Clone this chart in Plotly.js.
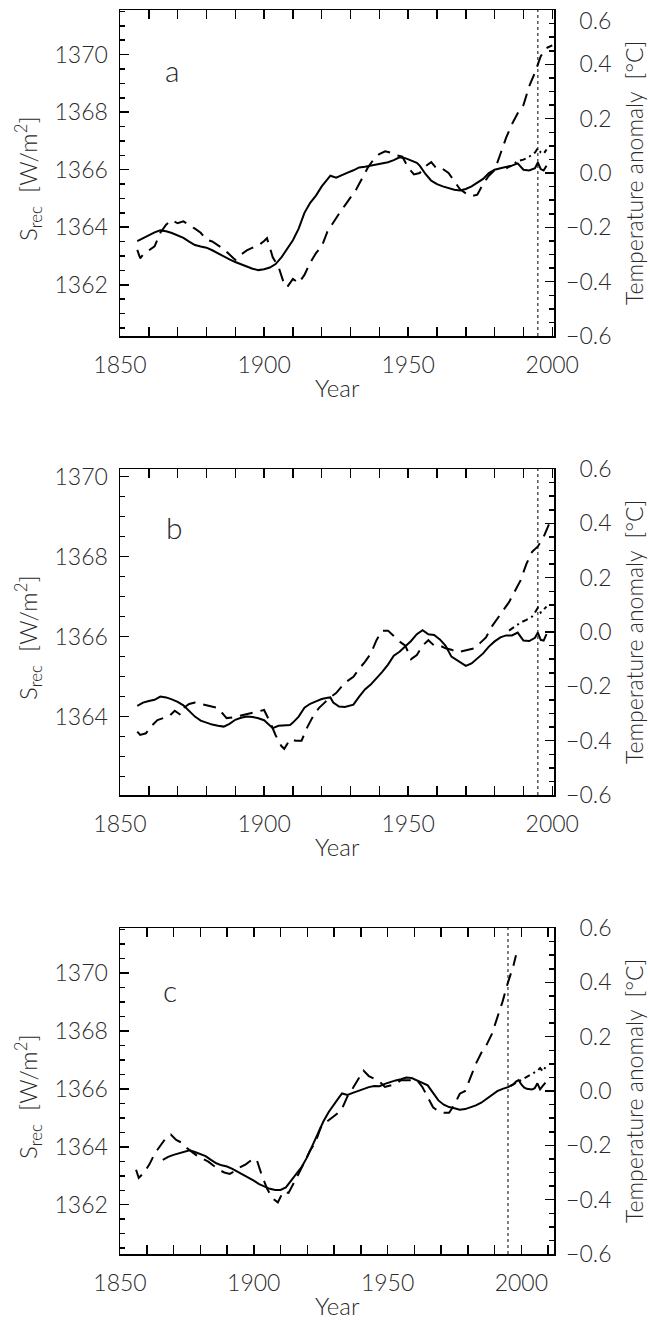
<!DOCTYPE html>
<html><head><meta charset="utf-8">
<script src="https://cdn.plot.ly/plotly-3.0.1.min.js"></script>
<style>html,body{margin:0;padding:0;background:#fff}</style>
</head><body><div id="chart" style="width:650px;height:1320px"></div>
<script>
// ---------------- DATA ----------------
const markYear = 1995;
const xTickLabels = ['1850','1900','1950','2000'];
const rightTickVals = [-0.6,-0.4,-0.2,0,0.2,0.4,0.6];
const rightTickText = ['\u22120.6','\u22120.4','\u22120.2','\u20070.0','\u20070.2','\u20070.4','\u20070.6'];
const panelLetters = ['a','b','c'];

// Panel a
const yearsA = [1856,1858,1860,1862,1864,1866,1868,1870,1872,1874,1876,1878,1880,1882,1884,1886,1888,1890,1892,1894,1896,1898,1900,1902,1904,1906,1908,1910,1912,1914,1916,1918,1920,1922,1923,1925,1927,1929,1931,1933,1935,1937,1939,1941,1943,1945,1947,1949,1951,1953,1954,1956,1958,1960,1962,1964,1966,1968,1970,1972,1974,1976,1978,1980,1982,1984,1986,1988,1989,1990,1992,1994,1995,1996,1997,1998];
const srecA = [1363.52,1363.62,1363.74,1363.82,1363.89,1363.86,1363.80,1363.72,1363.63,1363.50,1363.38,1363.33,1363.29,1363.20,1363.09,1362.98,1362.88,1362.79,1362.71,1362.63,1362.56,1362.51,1362.54,1362.60,1362.72,1362.95,1363.23,1363.55,1363.95,1364.50,1364.85,1365.10,1365.42,1365.68,1365.79,1365.72,1365.82,1365.90,1365.98,1366.08,1366.10,1366.14,1366.18,1366.22,1366.26,1366.33,1366.43,1366.40,1366.33,1366.24,1366.14,1365.85,1365.62,1365.50,1365.42,1365.35,1365.30,1365.28,1365.33,1365.42,1365.55,1365.68,1365.88,1366.00,1366.05,1366.10,1366.14,1366.22,1366.10,1366.00,1365.97,1366.05,1366.25,1366.02,1365.97,1366.14];
const tYearsA = [1856,1857,1858,1860,1862,1864,1866,1868,1870,1872,1874,1876,1878,1880,1882,1884,1886,1888,1890,1892,1894,1896,1898,1900,1901,1903,1905,1907,1908,1910,1912,1914,1916,1918,1920,1922,1924,1926,1928,1930,1932,1934,1936,1938,1940,1942,1944,1946,1948,1950,1952,1954,1956,1958,1960,1962,1964,1966,1968,1970,1972,1974,1976,1978,1980,1982,1984,1986,1988,1990,1992,1994,1996,1998,2000];
const tempA = [-0.283,-0.314,-0.30,-0.285,-0.27,-0.22,-0.19,-0.173,-0.185,-0.178,-0.19,-0.205,-0.22,-0.245,-0.252,-0.265,-0.28,-0.30,-0.32,-0.30,-0.285,-0.275,-0.268,-0.25,-0.24,-0.31,-0.345,-0.41,-0.42,-0.39,-0.405,-0.375,-0.33,-0.295,-0.27,-0.215,-0.18,-0.15,-0.12,-0.09,-0.06,-0.02,0.02,0.05,0.07,0.08,0.075,0.065,0.06,0.02,-0.005,0.00,0.025,0.04,0.015,0.015,0.00,-0.03,-0.06,-0.075,-0.085,-0.08,-0.04,-0.01,0.01,0.07,0.13,0.18,0.22,0.25,0.32,0.37,0.43,0.46,0.47];
const ddYearsA = [1984,1986,1988,1990,1992,1994,1995,1996,1997,1998];
const ddA = [1366.05,1366.15,1366.30,1366.35,1366.45,1366.60,1366.75,1366.60,1366.55,1366.70];

// Panel b
const yearsB = [1856,1858,1860,1862,1864,1866,1868,1870,1872,1874,1876,1878,1880,1882,1884,1886,1888,1890,1892,1894,1896,1898,1900,1902,1903,1905,1907,1909,1910,1912,1914,1916,1918,1920,1922,1923,1924,1926,1928,1931,1933,1935,1937,1939,1941,1943,1945,1947,1949,1951,1953,1955,1957,1959,1961,1963,1965,1967,1969,1970,1972,1974,1976,1978,1980,1982,1984,1986,1988,1989,1990,1992,1994,1995,1996,1997,1998];
const srecB = [1364.27,1364.35,1364.39,1364.42,1364.50,1364.48,1364.43,1364.37,1364.28,1364.15,1364.00,1363.90,1363.85,1363.80,1363.77,1363.75,1363.82,1363.92,1363.97,1364.00,1363.99,1363.96,1363.91,1363.79,1363.71,1363.77,1363.78,1363.79,1363.85,1364.00,1364.22,1364.32,1364.38,1364.44,1364.47,1364.48,1364.35,1364.25,1364.24,1364.30,1364.50,1364.68,1364.80,1364.95,1365.12,1365.30,1365.52,1365.62,1365.75,1365.89,1366.06,1366.16,1366.06,1366.04,1365.93,1365.77,1365.50,1365.40,1365.30,1365.27,1365.33,1365.45,1365.58,1365.75,1365.88,1365.98,1366.03,1366.03,1366.10,1366.00,1365.90,1365.89,1365.97,1366.10,1365.92,1365.90,1366.06];
const tYearsB = [1856,1857,1859,1861,1863,1865,1867,1869,1871,1872,1874,1876,1878,1880,1882,1884,1886,1887,1889,1891,1893,1895,1897,1899,1900,1902,1904,1906,1907,1909,1911,1913,1915,1917,1919,1921,1923,1925,1927,1929,1931,1933,1935,1937,1939,1941,1943,1945,1947,1949,1951,1953,1955,1957,1959,1961,1963,1965,1967,1969,1971,1973,1975,1977,1979,1981,1983,1985,1987,1989,1991,1993,1995,1997,1999,2000];
const tempB = [-0.367,-0.379,-0.373,-0.345,-0.324,-0.316,-0.31,-0.29,-0.305,-0.28,-0.265,-0.26,-0.265,-0.27,-0.275,-0.28,-0.305,-0.317,-0.315,-0.31,-0.305,-0.30,-0.295,-0.29,-0.287,-0.33,-0.38,-0.42,-0.43,-0.395,-0.40,-0.40,-0.35,-0.31,-0.28,-0.26,-0.24,-0.225,-0.20,-0.18,-0.165,-0.135,-0.11,-0.08,-0.03,0.005,0.005,-0.015,-0.035,-0.05,-0.10,-0.085,-0.05,-0.03,-0.05,-0.05,-0.06,-0.065,-0.075,-0.07,-0.065,-0.06,-0.04,-0.02,0.02,0.05,0.08,0.11,0.15,0.19,0.25,0.295,0.315,0.35,0.40,0.42];
const ddYearsB = [1985,1987,1989,1991,1993,1994,1995,1996,1998];
const ddB = [1366.15,1366.25,1366.35,1366.42,1366.50,1366.60,1366.72,1366.60,1366.75];

// Panel c
const yearsC = [1866,1868,1870,1872,1874,1876,1878,1880,1882,1884,1886,1888,1890,1892,1894,1896,1898,1900,1902,1904,1906,1908,1910,1912,1914,1916,1918,1920,1922,1924,1926,1928,1930,1932,1933,1935,1937,1939,1941,1943,1945,1947,1949,1951,1953,1955,1957,1959,1961,1963,1965,1967,1969,1971,1973,1975,1977,1979,1981,1983,1985,1987,1989,1991,1993,1995,1997,1998,1999,2000,2001,2002,2004,2005,2006,2007,2008,2009];
const srecC = [1363.55,1363.65,1363.72,1363.77,1363.84,1363.88,1363.82,1363.76,1363.68,1363.55,1363.43,1363.36,1363.32,1363.24,1363.14,1363.03,1362.93,1362.83,1362.71,1362.62,1362.55,1362.51,1362.51,1362.60,1362.85,1363.09,1363.32,1363.65,1364.05,1364.45,1364.87,1365.20,1365.48,1365.72,1365.84,1365.79,1365.86,1365.93,1365.98,1366.06,1366.10,1366.09,1366.17,1366.24,1366.29,1366.33,1366.39,1366.37,1366.28,1366.20,1366.12,1365.86,1365.60,1365.45,1365.37,1365.33,1365.28,1365.30,1365.36,1365.43,1365.52,1365.65,1365.80,1365.92,1366.00,1366.06,1366.15,1366.25,1366.30,1366.15,1366.05,1366.00,1365.98,1366.02,1366.19,1365.98,1366.10,1366.21];
const tYearsC = [1856,1857,1859,1861,1863,1865,1867,1869,1871,1873,1875,1877,1879,1881,1883,1885,1887,1889,1891,1893,1895,1897,1899,1901,1903,1905,1907,1909,1911,1913,1915,1917,1919,1921,1923,1925,1927,1929,1931,1933,1935,1937,1939,1941,1943,1945,1947,1949,1951,1953,1955,1957,1959,1961,1963,1965,1967,1969,1971,1973,1975,1977,1979,1981,1983,1985,1987,1989,1991,1993,1995,1997,1998];
const tempC = [-0.29,-0.32,-0.30,-0.27,-0.23,-0.20,-0.175,-0.16,-0.18,-0.19,-0.21,-0.225,-0.24,-0.25,-0.26,-0.275,-0.29,-0.30,-0.305,-0.295,-0.28,-0.27,-0.255,-0.25,-0.31,-0.36,-0.395,-0.41,-0.37,-0.375,-0.34,-0.30,-0.26,-0.22,-0.19,-0.135,-0.115,-0.10,-0.085,-0.065,-0.02,0.01,0.04,0.075,0.055,0.045,0.035,0.015,0.02,0.025,0.04,0.04,0.04,0.04,0.015,-0.02,-0.06,-0.075,-0.08,-0.08,-0.05,-0.01,0.00,0.05,0.10,0.14,0.17,0.21,0.27,0.33,0.40,0.46,0.50];
const ddYearsC = [1996,1998,2000,2002,2004,2006,2007,2008,2009];
const ddC = [1366.10,1366.20,1366.30,1366.40,1366.50,1366.62,1366.72,1366.60,1366.75];

// ---------------- LAYOUT ----------------
const W = 650, H = 1320;
const fx = p => p / W, fy = p => 1 - p / H;
const FONT = 'Lato, Liberation Sans, Arial, sans-serif';
const TXT = '#2a2a2a';
const frameL = 120, frameR = 554;
const panels = [
  {top: 10,  bottom: 336,  xr: [1850, 2000.6], yl: [1360.22, 1371.55], yt: [1362,1364,1366,1368,1370], s: [yearsA, srecA], t: [tYearsA, tempA], d: [ddYearsA, ddA], letter: [172, 70], topLabelInside: true},
  {top: 469, bottom: 795,  xr: [1850, 2000.6], yl: [1362.04, 1370.19], yt: [1364,1366,1368,1370],      s: [yearsB, srecB], t: [tYearsB, tempB], d: [ddYearsB, ddB], letter: [174, 527]},
  {top: 928, bottom: 1254, xr: [1850, 2012.2], yl: [1360.3, 1371.55],  yt: [1362,1364,1366,1368,1370], s: [yearsC, srecC], t: [tYearsC, tempC], d: [ddYearsC, ddC], letter: [170, 990]}
];

const traces = [];
const layout = {
  width: W, height: H,
  margin: {l: 0, r: 0, t: 0, b: 0},
  paper_bgcolor: 'white', plot_bgcolor: 'white',
  showlegend: false,
  font: {family: FONT, size: 23, color: TXT, weight: 300},
  annotations: [], shapes: []
};
const tf = {family: FONT, size: 23, color: TXT, weight: 300};
const af = {family: FONT, size: 24, color: TXT, weight: 300};

panels.forEach((p, i) => {
  const xn = i === 0 ? '' : String(i + 1);
  const yl = String(2 * i + 1), yr = String(2 * i + 2);
  const yln = yl === '1' ? '' : yl;
  const xAxisKey = 'xaxis' + xn, yLKey = 'yaxis' + yln, yRKey = 'yaxis' + yr;
  const xRef = 'x' + xn, yLRef = 'y' + yln, yRRef = 'y' + yr;
  const dom = [fy(p.bottom), fy(p.top)];
  // right-axis labels; the top one of the first panel is drawn slightly inside (as in the original)
  const rVals = p.topLabelInside ? rightTickVals.slice(0, -1) : rightTickVals;
  const rText = p.topLabelInside ? rightTickText.slice(0, -1) : rightTickText;
  layout[xAxisKey] = {
    domain: [fx(frameL), fx(frameR)], anchor: yLRef, range: p.xr,
    showline: true, linecolor: 'black', linewidth: 1.5, mirror: 'allticks',
    ticks: 'inside', ticklen: 9, tickwidth: 1.5, tickcolor: 'black',
    tickvals: [1850, 1900, 1950, 2000], ticktext: xTickLabels,
    minor: {ticks: 'inside', dtick: 10, tick0: 1850, ticklen: 5, tickwidth: 1.5, tickcolor: 'black', showgrid: false},
    showgrid: false, zeroline: false, automargin: false,
    ticklabelstandoff: 8, ticklabeloverflow: 'allow',
    tickfont: tf
  };
  layout[yLKey] = {
    domain: dom, anchor: xRef, range: p.yl,
    showline: true, linecolor: 'black', linewidth: 1.5,
    ticks: 'inside', ticklen: 9, tickwidth: 1.5, tickcolor: 'black',
    tickvals: p.yt,
    minor: {ticks: 'inside', dtick: 0.5, tick0: 1360, ticklen: 5, tickwidth: 1.5, tickcolor: 'black', showgrid: false},
    showgrid: false, zeroline: false, automargin: false,
    ticklabelstandoff: 6, ticklabeloverflow: 'allow',
    tickfont: tf
  };
  layout[yRKey] = {
    domain: dom, anchor: xRef, overlaying: yLRef, side: 'right', range: [-0.6, 0.6],
    showline: true, linecolor: 'black', linewidth: 1.5,
    ticks: 'inside', ticklen: 9, tickwidth: 1.5, tickcolor: 'black',
    tickvals: rVals, ticktext: rText,
    minor: {ticks: 'inside', dtick: 0.05, tick0: 0, ticklen: 5, tickwidth: 1.5, tickcolor: 'black', showgrid: false},
    showgrid: false, zeroline: false, automargin: false,
    ticklabelstandoff: 6, ticklabeloverflow: 'allow',
    tickfont: tf
  };
  if (p.topLabelInside) {
    layout.annotations.push({text: rightTickText[rightTickText.length - 1], xref: 'paper', yref: 'paper',
      x: fx(frameR + 10), y: fy(p.top + 10), xanchor: 'left', yanchor: 'middle', showarrow: false, font: tf});
  }

  traces.push({x: p.t[0], y: p.t[1], xaxis: xRef, yaxis: yRRef, type: 'scatter', mode: 'lines',
    line: {color: 'black', width: 2, dash: '13px,8px'}, hoverinfo: 'skip'});
  traces.push({x: p.s[0], y: p.s[1], xaxis: xRef, yaxis: yLRef, type: 'scatter', mode: 'lines',
    line: {color: 'black', width: 2}, hoverinfo: 'skip'});
  traces.push({x: p.d[0], y: p.d[1], xaxis: xRef, yaxis: yLRef, type: 'scatter', mode: 'lines',
    line: {color: 'black', width: 2, dash: '6px,4px,2px,4px'}, hoverinfo: 'skip'});

  layout.shapes.push({type: 'line', xref: xRef, yref: yLRef + ' domain', x0: markYear, x1: markYear, y0: 0, y1: 1,
    line: {color: 'black', width: 1, dash: '3px,3px'}});

  const mid = (p.top + p.bottom) / 2;
  layout.annotations.push(
    {text: 'S<sub>rec</sub>  [W/m<sup>2</sup>]', xref: 'paper', yref: 'paper', x: fx(28), y: fy(mid + 6),
     xanchor: 'center', yanchor: 'middle', textangle: -90, showarrow: false, font: af},
    {text: 'Temperature anomaly  [°C]', xref: 'paper', yref: 'paper', x: fx(634), y: fy(mid),
     xanchor: 'center', yanchor: 'middle', textangle: -90, showarrow: false, font: {family: FONT, size: 23, color: TXT, weight: 300}},
    {text: 'Year', xref: 'paper', yref: 'paper', x: fx(337), y: fy(p.bottom + 51),
     xanchor: 'center', yanchor: 'middle', showarrow: false, font: af},
    {text: panelLetters[i], xref: 'paper', yref: 'paper', x: fx(p.letter[0]), y: fy(p.letter[1]),
     xanchor: 'center', yanchor: 'middle', showarrow: false, font: {family: FONT, size: 30, color: TXT, weight: 300}}
  );
});

Plotly.newPlot('chart', traces, layout, {staticPlot: true, displayModeBar: false});
</script></body></html>
